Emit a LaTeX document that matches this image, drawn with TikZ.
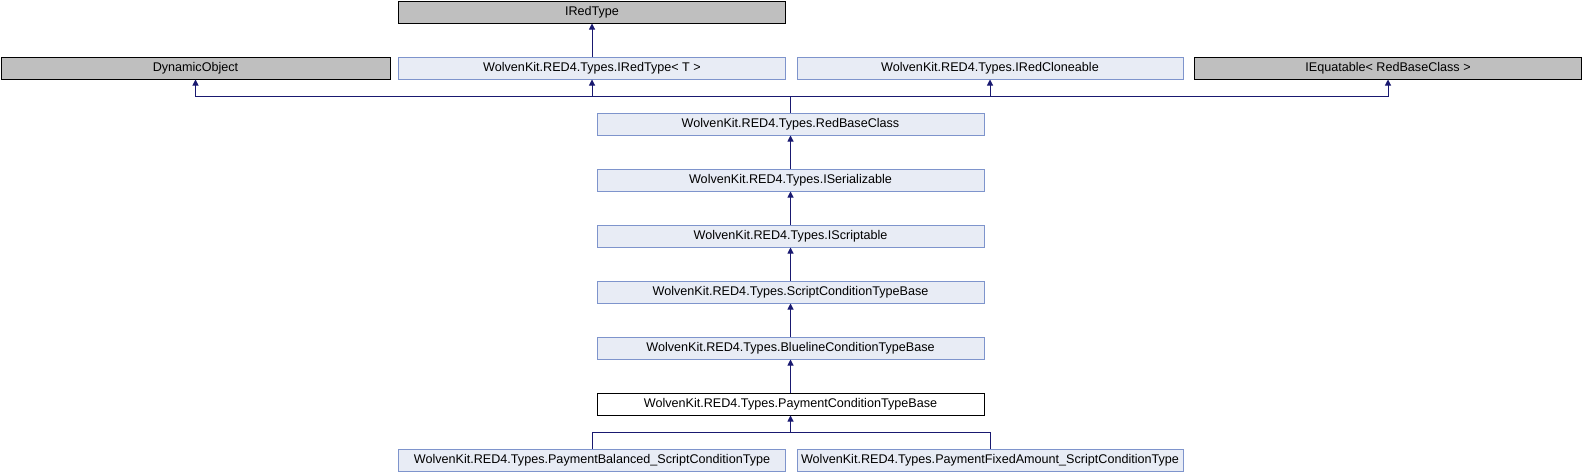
\documentclass[tikz,border=0pt]{standalone}
\usepackage{fontspec}
\setmainfont{Liberation Sans}
\usetikzlibrary{arrows.meta}
\definecolor{boxfill}{HTML}{E8ECF5}
\definecolor{boxline}{HTML}{7E94CC}
\definecolor{greyfill}{HTML}{BFBFBF}
\definecolor{edge}{HTML}{191970}
\tikzset{
  cls/.style={draw=boxline, fill=boxfill, line width=1pt, minimum width=387pt, minimum height=22pt, inner sep=0pt, font=\fontsize{12.6}{14}\selectfont},
  ext/.style={cls, draw=black, fill=greyfill},
  cur/.style={cls, draw=black, fill=white},
  inh/.style={draw=edge, line width=1pt, -{Triangle[length=6pt,width=6pt]}},
  plain/.style={draw=edge, line width=1pt},
}
\begin{document}
\begin{tikzpicture}[x=1pt,y=-1pt]
\useasboundingbox (0,0) rectangle (1582,472);
\node[ext] (iredtype) at (592,12) {IRedType};
\node[ext, minimum width=389pt] (dyn) at (195.5,68) {DynamicObject};
\node[cls] (iredtypet) at (592,68) {WolvenKit.RED4.Types.IRedType< T >};
\node[cls, minimum width=386pt] (clone) at (990,68) {WolvenKit.RED4.Types.IRedCloneable};
\node[ext] (iequ) at (1388,68) {IEquatable< RedBaseClass >};
\node[cls] (rbc) at (790.5,124) {WolvenKit.RED4.Types.RedBaseClass};
\node[cls] (iser) at (790.5,180) {WolvenKit.RED4.Types.ISerializable};
\node[cls] (iscr) at (790.5,236) {WolvenKit.RED4.Types.IScriptable};
\node[cls] (sctb) at (790.5,292) {WolvenKit.RED4.Types.ScriptConditionTypeBase};
\node[cls] (blct) at (790.5,348) {WolvenKit.RED4.Types.BluelineConditionTypeBase};
\node[cur] (pay) at (790.5,404) {WolvenKit.RED4.Types.PaymentConditionTypeBase};
\node[cls] (bal) at (592,460) {WolvenKit.RED4.Types.PaymentBalanced\_ScriptConditionType};
\node[cls, minimum width=386pt] (fix) at (990,460) {WolvenKit.RED4.Types.PaymentFixedAmount\_ScriptConditionType};
% top
\draw[inh] (iredtypet.north) -- (iredtype.south);
% bus from RedBaseClass
\coordinate (bus) at (790.5,96);
\draw[plain] (rbc.north) -- (bus);
\draw[inh] (bus) -| (dyn.south);
\draw[inh] (bus) -| (iredtypet.south);
\draw[inh] (bus) -| (clone.south);
\draw[inh] (bus) -| (iequ.south);
% chain
\draw[inh] (iser.north) -- (rbc.south);
\draw[inh] (iscr.north) -- (iser.south);
\draw[inh] (sctb.north) -- (iscr.south);
\draw[inh] (blct.north) -- (sctb.south);
\draw[inh] (pay.north) -- (blct.south);
% children
\coordinate (cbus) at (790.5,432);
\draw[plain] (bal.north) |- (cbus);
\draw[plain] (fix.north) |- (cbus);
\draw[inh] (cbus) -- (pay.south);
\end{tikzpicture}
\end{document}
